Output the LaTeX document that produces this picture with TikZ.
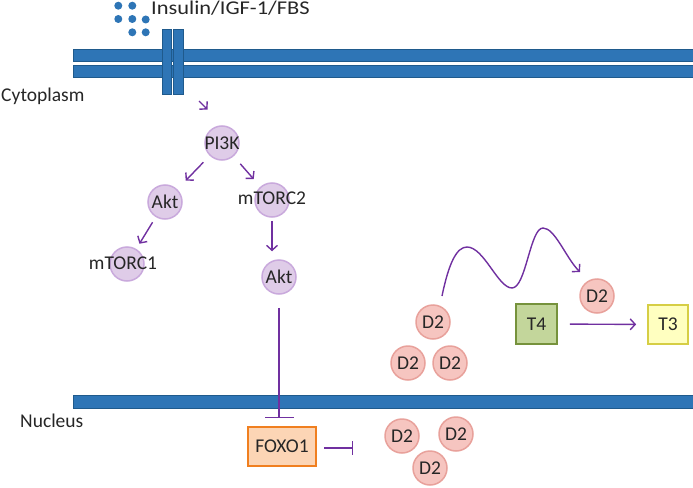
\documentclass[tikz,border=0pt]{standalone}
\usepackage{fontspec}
\setmainfont{Carlito}
\newfontfamily\widefont[FakeStretch=1.15]{Carlito}
\usetikzlibrary{arrows.meta,calc}
\definecolor{membr}{HTML}{2E75B6}
\definecolor{membd}{HTML}{1F5A8C}
\definecolor{arr}{HTML}{7030A0}
\definecolor{pfill}{HTML}{DFCCE8}
\definecolor{pdraw}{HTML}{C9A9DC}
\definecolor{dfill}{HTML}{F6C5C0}
\definecolor{ddraw}{HTML}{E8A19B}
\definecolor{ofill}{HTML}{FCD5B5}
\definecolor{odraw}{HTML}{F07F1F}
\definecolor{gfill}{HTML}{C3D69B}
\definecolor{gdraw}{HTML}{76923C}
\definecolor{yfill}{HTML}{FFFFC0}
\definecolor{ydraw}{HTML}{D6CE45}
\definecolor{txt}{HTML}{262626}
\tikzset{
  every node/.style={font=\fontsize{19.5}{22}\selectfont, text=txt},
  bar/.style={fill=membr, draw=membd, line width=0.8pt},
  lbl/.style={font=\fontsize{19.5}{22}\selectfont, text=txt, inner sep=0pt},
  bubble/.style={circle, minimum size=34pt, inner sep=0pt, fill=pfill, draw=pdraw, line width=1.5pt},
  dbubble/.style={circle, minimum size=34pt, inner sep=0pt, fill=dfill, draw=ddraw, line width=1.5pt},
  act/.style={draw=arr, line width=1.4pt, -{Straight Barb[length=5pt,width=11pt]}},
  inh/.style={draw=arr, line width=1.4pt},
  dot/.style={circle, fill=membr, minimum size=8pt, inner sep=0pt}
}
\begin{document}
\begin{tikzpicture}[x=1pt,y=-1pt]
\useasboundingbox (0,0) rectangle (693,487);
% ligand dots
\node[dot] (l1) at (118.3,5.7) {};
\node[dot] (l2) at (132.3,5.7) {};
\node[dot] (l3) at (118.3,19) {};
\node[dot] (l4) at (132.3,19) {};
\node[dot] (l5) at (145.7,19.5) {};
\node[dot] (l6) at (132.3,32.3) {};
\node[dot] (l7) at (145.7,32.3) {};
\node[anchor=base west, inner sep=0pt, font=\widefont\fontsize{19.5}{22}\selectfont] (ins) at (151,15) {Insulin/IGF-1/FBS};
% membranes
\draw[bar] (73,49) rectangle (695,61);
\draw[bar] (73,65) rectangle (695,77);
\draw[bar] (162,29) rectangle (171,94);
\draw[bar] (173,29) rectangle (183,94);
\draw[bar] (73,395) rectangle (695,408);
\node[anchor=base west, inner sep=0pt] (cyto) at (1,101.7) {Cytoplasm};
\node[anchor=base west, inner sep=0pt] (nuc) at (20,427) {Nucleus};
% signalling
\coordinate (r1) at (199,101);
\coordinate (r2) at (207.5,109.5);
\draw[act] (r1) -- (r2);
\node[bubble, label={[lbl]center:PI3K}] (pi3k) at (222,143) {};
\node[bubble, label={[lbl]center:Akt}] (akt1) at (165,202) {};
\node[bubble, label={[lbl,yshift=2pt]center:mTORC2}] (mtorc2) at (272,200) {};
\node[bubble, label={[lbl,xshift=-4pt,yshift=1pt]center:mTORC1}] (mtorc1) at (127,264) {};
\node[bubble, label={[lbl]center:Akt}] (akt2) at (279,277) {};
\draw[act, shorten <=9pt, shorten >=12pt] (pi3k) -- (akt1);
\draw[act, shorten <=10pt, shorten >=10pt] (pi3k) -- (mtorc2);
\draw[act, shorten <=6pt, shorten >=6pt] (akt1) -- (mtorc1);
\draw[act, shorten <=3pt, shorten >=8pt] (mtorc2) -- (mtorc2 |- akt2.north);
% FOXO1
\node[draw=odraw, fill=ofill, line width=2pt, minimum width=68pt, minimum height=39pt, inner sep=0pt] (foxo) at (282,446.5) {FOXO1};
\draw[inh, -{Bar[width=29pt]}, shorten <=13pt, shorten >=8pt] (akt2) -- (akt2 |- foxo.north);
\coordinate (inhd2) at (353,448);
\draw[inh, -{Bar[width=14pt]}] ($(foxo.east)+(7,1.5)$) -- (inhd2);
% nuclear D2
\node[dbubble, label={[lbl]center:D2}] (d2n1) at (402,436) {};
\node[dbubble, label={[lbl]center:D2}] (d2n2) at (456,434) {};
\node[dbubble, label={[lbl]center:D2}] (d2n3) at (430,468) {};
% cytoplasmic D2
\node[dbubble, label={[lbl]center:D2}] (d2a) at (433,322) {};
\node[dbubble, label={[lbl]center:D2}] (d2b) at (408,363) {};
\node[dbubble, label={[lbl]center:D2}] (d2c) at (450,363) {};
\node[dbubble, label={[lbl]center:D2}] (d2d) at (597,296) {};
\coordinate (wstart) at (442,296);
\coordinate (wend) at (580,272);
\draw[act] (wstart) .. controls (449,262) and (457,247) .. (467,247)
  .. controls (484,247) and (498,288) .. (512,288)
  .. controls (526,288) and (530,228) .. (543,228)
  .. controls (555,228) and (566,258) .. (wend);
\node[draw=gdraw, fill=gfill, line width=1.8pt, minimum width=41pt, minimum height=40pt, inner sep=0pt] (t4) at (536.5,324) {T4};
\node[draw=ydraw, fill=yfill, line width=1.8pt, minimum width=40pt, minimum height=39pt, inner sep=0pt] (t3) at (668,324.5) {T3};
\draw[act, shorten <=12pt, shorten >=11pt] (t4) -- (t3);
\end{tikzpicture}
\end{document}
